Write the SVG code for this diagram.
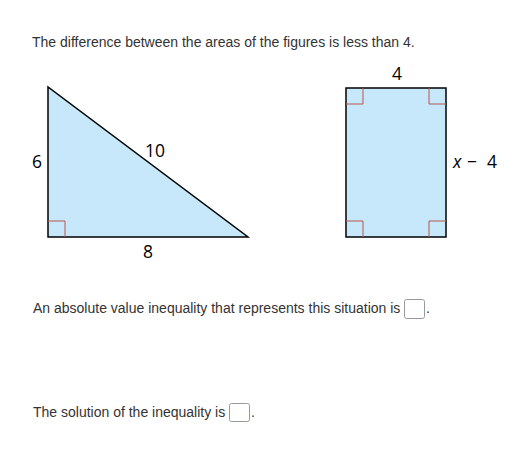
<svg xmlns="http://www.w3.org/2000/svg" width="531" height="450" viewBox="0 0 531 450">
<style>
.t{font-family:"Liberation Sans",Arial,sans-serif;font-size:14px;fill:#333}
.l{font-family:"Open Sans","Liberation Sans",sans-serif;font-size:17.5px;fill:#000}
.shape{fill:#c7e8fa;stroke:#000;stroke-width:1.5}
.ra{fill:none;stroke:#b8574e;stroke-width:1}
.box{fill:#fff;stroke:#999;stroke-width:1}
</style>
<rect width="531" height="450" fill="#fff"/>
<text class="t" x="32" y="47">The difference between the areas of the figures is less than 4.</text>
<g id="triangle">
<polygon class="shape" points="48,87 48,237 248,237"/>
<polyline class="ra" points="48,221 65,221 65,237"/>
<text class="l" x="37" y="168" text-anchor="middle">6</text>
<text class="l" x="155" y="157" text-anchor="middle">10</text>
<text class="l" x="148" y="258" text-anchor="middle">8</text>
</g>
<g id="rectangle">
<rect class="shape" x="346" y="88" width="100" height="149"/>
<polyline class="ra" points="346,104 363,104 363,88"/>
<polyline class="ra" points="446,104 429,104 429,88"/>
<polyline class="ra" points="346,221 363,221 363,237"/>
<polyline class="ra" points="446,221 429,221 429,237"/>
<text class="l" x="397" y="80" text-anchor="middle">4</text>
<text class="l" x="453" y="168"><tspan font-style="italic">x</tspan><tspan x="467">−</tspan><tspan x="487">4</tspan></text>
</g>
<text class="t" x="33" y="313">An absolute value inequality that represents this situation is</text>
<rect class="box" x="404.5" y="299.5" width="20" height="19" rx="2"/>
<text class="t" x="426" y="313">.</text>
<text class="t" x="33" y="417">The solution of the inequality is</text>
<rect class="box" x="229.5" y="403.5" width="20" height="18" rx="2"/>
<text class="t" x="251" y="417">.</text>
</svg>
